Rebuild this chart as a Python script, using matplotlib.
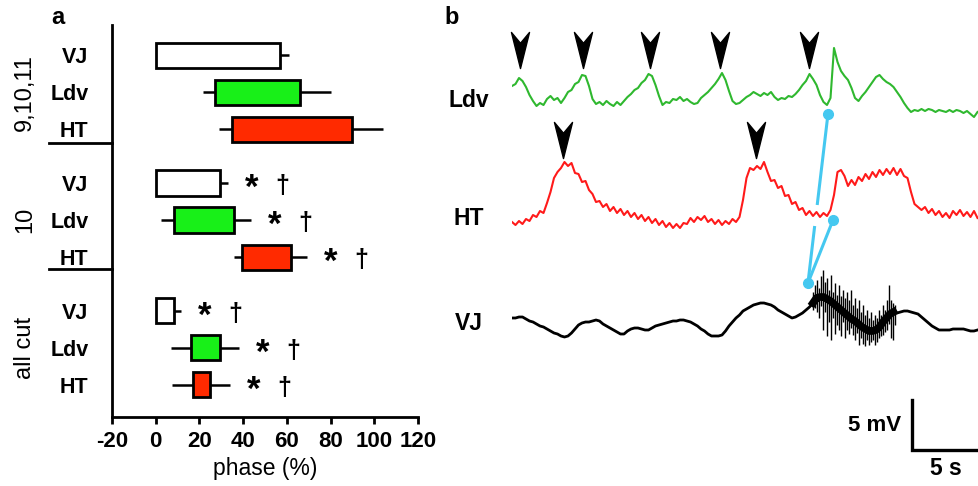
import numpy as np
import matplotlib.pyplot as plt
from matplotlib.path import Path
from matplotlib.transforms import blended_transform_factory

plt.rcParams['font.family'] = ['Liberation Sans', 'DejaVu Sans']

# ---- panel a: burst phase per nerve (box = quartiles, whiskers = range) ----
groups = ["9,10,11", "10", "all cut"]
nerves = ["VJ", "Ldv", "HT"]
box_lo = [0, 27, 34.7, 0, 8.3, 39.6, 0, 16, 17]
box_hi = [56.8, 66, 90, 29.3, 36, 62, 8.3, 29.3, 24.7]
whisk_lo = [0, 21.5, 29, 0, 2.5, 35.7, 0, 7, 7.3]
whisk_hi = [61, 80, 104, 33, 43.5, 69, 11.5, 38, 34]
significant = [False, False, False, True, True, True, True, True, True]

# ---- panel b: example recordings (mV relative to resting level, 0.25 s per sample) ----
dt = 0.25
ldv_mv = [1.9, 2.1, 2.7, 2.4, 1.8, 1.0, 0.4, -0.1, 0.2, 0.0,
          0.6, 0.9, 0.5, 0.7, 0.2, 0.7, 1.3, 1.5, 2.1, 2.3,
          3.0, 2.9, 1.9, 0.6, 0.1, 0.3, 0.0, 0.4, 0.1, -0.1,
          0.3, 0.0, 0.4, 0.8, 1.1, 1.5, 1.7, 2.2, 2.5, 3.1,
          2.9, 2.0, 0.9, 0.0, 0.3, 0.2, 0.6, 0.5, 0.8, 0.4,
          0.6, 0.3, 0.1, 0.2, 0.7, 1.0, 1.3, 1.7, 2.1, 2.6,
          3.2, 2.5, 1.4, 0.4, 0.1, 0.2, 0.5, 0.8, 1.0, 1.3,
          1.1, 0.9, 1.2, 1.0, 1.3, 0.8, 0.5, 0.7, 0.6, 0.9,
          0.8, 1.1, 1.5, 2.0, 2.4, 3.1, 2.6, 2.0, 1.0, 0.3,
          0.0, 0.7, 5.7, 4.3, 3.4, 2.9, 2.5, 1.7, 0.7, 0.4,
          0.9, 1.3, 1.8, 2.3, 2.8, 3.0, 2.6, 2.3, 2.1, 1.8,
          1.3, 0.8, 0.2, -0.3, -0.7, -0.5, -0.6, -0.4, -0.6, -0.4,
          -0.5, -0.7, -0.5, -0.6, -0.7, -0.5, -0.7, -0.5, -0.6, -0.8,
          -0.6, -0.9, -1.2, -0.7]
ht_mv = [0.1, -0.2, 0.2, -0.1, 0.4, 0.2, 0.8, 0.6, 1.2, 1.0,
         2.0, 3.1, 4.5, 5.1, 5.5, 6.1, 5.7, 6.0, 5.0, 4.9,
         4.1, 4.2, 3.3, 2.9, 2.1, 2.2, 1.6, 1.9, 1.2, 1.6,
         1.0, 1.4, 0.8, 1.2, 0.6, 1.0, 0.4, 0.8, 0.2, 0.6,
         0.0, 0.4, -0.2, 0.2, -0.4, 0.0, -0.5, -0.1, -0.5, 0.0,
         -0.1, 0.5, 0.1, 0.6, 0.3, 0.7, 0.1, 0.4, -0.1, 0.3,
         -0.2, 0.2, -0.1, 0.4, 0.1, 0.6, 2.3, 4.5, 5.5, 5.3,
         5.7, 5.4, 6.1, 5.1, 4.2, 4.3, 3.5, 3.7, 2.7, 2.8,
         1.9, 2.1, 1.3, 1.5, 0.8, 1.2, 0.7, 1.1, 0.6, 1.0,
         0.7, 1.3, 2.8, 5.1, 5.3, 4.7, 3.7, 4.3, 3.8, 4.6,
         4.2, 4.9, 4.4, 5.1, 4.6, 5.3, 4.8, 5.4, 4.9, 5.5,
         4.8, 5.4, 4.7, 4.5, 3.1, 1.9, 1.6, 1.3, 1.6, 1.0,
         1.4, 0.8, 1.2, 0.6, 1.0, 0.5, 1.2, 0.8, 1.3, 0.7,
         1.1, 0.6, 1.2, 0.5]
vj_mv = [0.7, 0.7, 0.8, 0.8, 0.6, 0.4, 0.3, 0.1, -0.1, -0.2,
         -0.4, -0.6, -0.8, -0.9, -1.1, -1.2, -1.1, -0.8, -0.4, 0.0,
         0.2, 0.3, 0.3, 0.4, 0.5, 0.4, 0.1, -0.1, -0.3, -0.5,
         -0.7, -0.9, -0.9, -0.6, -0.4, -0.3, -0.3, -0.4, -0.5, -0.5,
         -0.3, -0.1, 0.0, 0.1, 0.2, 0.3, 0.4, 0.4, 0.5, 0.5,
         0.4, 0.3, 0.1, -0.1, -0.4, -0.6, -0.9, -1.1, -1.1, -1.1,
         -1.0, -0.6, -0.1, 0.3, 0.7, 1.0, 1.4, 1.6, 1.8, 2.0,
         2.1, 2.2, 2.2, 2.1, 2.0, 1.8, 1.5, 1.3, 1.1, 0.9,
         0.7, 0.8, 1.0, 1.2, 1.5, 1.8, 2.2, 2.7, 2.8, 2.8,
         2.6, 2.4, 2.1, 1.8, 1.5, 1.2, 0.9, 0.6, 0.4, 0.1,
         -0.2, -0.4, -0.6, -0.6, -0.5, -0.2, 0.3, 0.7, 1.1, 1.3,
         1.2, 1.3, 1.4, 1.4, 1.3, 1.2, 1.1, 0.8, 0.5, 0.2,
         -0.1, -0.3, -0.5, -0.5, -0.5, -0.5, -0.4, -0.4, -0.4, -0.4,
         -0.5, -0.6, -0.6, -0.5]
# VJ spike burst after the cut (extent of each sweep, mV)
burst_start, burst_dt = 21.5, 0.143
burst_top = [3.3, 4.0, 4.5, 3.7, 4.9, 5.5, 4.3, 4.7, 3.5, 5.0,
             3.3, 4.2, 3.0, 4.0, 2.9, 3.5, 2.7, 3.3, 2.5, 3.5,
             2.0, 2.7, 1.7, 2.5, 1.3, 2.0, 1.0, 1.5, 0.7, 1.3,
             0.5, 1.0, 0.7, 1.5, 1.0, 2.0, 1.5, 2.5, 4.0, 2.5,
             2.2, 2.0]
burst_bottom = [1.5, 1.7, 1.3, 0.7, 1.9, -0.5, 1.3, -1.1, 0.3, -1.5,
                0.7, -0.9, 0.0, -0.5, -1.1, 0.3, -1.3, -0.5, -0.9, -0.3,
                -1.0, -1.5, -0.8, -2.0, -1.3, -1.9, -2.1, -1.5, -2.0, -1.7,
                -1.5, -2.0, -1.7, -1.3, -1.1, -1.0, -0.7, -0.5, 0.1, -1.3,
                -1.5, 0.0]
ldv_bursts = [0.57, 5.07, 9.86, 14.86, 21.21]   # s, arrowheads
ht_bursts = [3.64, 17.43]
# onset markers linking the three traces (s, mV on the stacked axis)
onset_t = [22.57, 22.93, 21.14]
onset_v = [35.6, 25.0, 18.7]

offsets = {"Ldv": 36.5, "HT": 24.7, "VJ": 14.5}
label_v = {"Ldv": 37.0, "HT": 25.2, "VJ": 14.7}

fig = plt.figure(figsize=(9.79, 4.86), dpi=100)

# ---------------- panel a ----------------
ax = fig.add_axes([112 / 979, 69 / 486, 306 / 979, 392 / 486])
ypos = [0, 1, 2, 3.45, 4.45, 5.45, 6.9, 7.9, 8.9]
fills = ["white", "#18f018", "#ff2a00"] * 3

ax.hlines(ypos, whisk_lo, whisk_hi, color="black", lw=1.8, zorder=2)
ax.barh(ypos, np.array(box_hi) - np.array(box_lo), left=box_lo, height=0.68,
        color=fills, edgecolor="black", linewidth=2.0, zorder=3)

for y, hi, sig in zip(ypos, whisk_hi, significant):
    if sig:
        ax.text(hi + 11, y + 0.15, "*", fontsize=25, fontweight="bold",
                ha="center", va="center")
        ax.text(hi + 25, y + 0.08, "\u2020", fontsize=18, fontweight="bold",
                ha="center", va="center")

ax.set_xlim(-20, 120)
ax.set_ylim(9.77, -0.82)
ax.set_xticks(range(-20, 121, 20))
ax.set_xticklabels([str(v) for v in range(-20, 121, 20)], fontweight="bold", fontsize=16)
ax.set_yticks(ypos)
ax.set_yticklabels(nerves * 3, fontweight="bold", fontsize=15.5)
ax.tick_params(axis="y", length=0, pad=17)
ax.tick_params(axis="x", length=5, width=2.0, pad=5)
ax.set_xlabel("phase (%)", fontsize=16.5, labelpad=4)
for side in ["top", "right"]:
    ax.spines[side].set_visible(False)
for side in ["left", "bottom"]:
    ax.spines[side].set_linewidth(2.0)

mixed = blended_transform_factory(ax.transAxes, ax.transData)
for ysep in [2.36, 5.77]:
    ax.plot([-0.206, 0], [ysep, ysep], color="black", lw=2.0,
            transform=mixed, clip_on=False)
for g, name in enumerate(groups):
    ax.text(-0.285, ypos[3 * g + 1], name, rotation=90, fontsize=17,
            ha="center", va="center", transform=mixed)

fig.text(58 / 979, 1 - 18 / 486, "a", fontsize=17, fontweight="bold",
         ha="center", va="center")
fig.text(452 / 979, 1 - 18 / 486, "b", fontsize=17, fontweight="bold",
         ha="center", va="center")

# ---------------- panel b ----------------
axb = fig.add_axes([512 / 979, 16 / 486, 467 / 979, 430 / 486])
axb.set_xlim(0, 467 / 14)
axb.set_ylim(0, 43)
axb.axis("off")

t = np.arange(len(ldv_mv)) * dt
axb.plot(t, offsets["Ldv"] + np.array(ldv_mv), color="#2fb82f", lw=1.5)
t = np.arange(len(ht_mv)) * dt
axb.plot(t, offsets["HT"] + np.array(ht_mv), color="#ff1a1a", lw=1.5)
t = np.arange(len(vj_mv)) * dt
vj = offsets["VJ"] + np.array(vj_mv)
axb.plot(t, vj, color="black", lw=2.0)
tb = burst_start + np.arange(len(burst_top)) * burst_dt
axb.vlines(tb, offsets["VJ"] + np.array(burst_bottom), offsets["VJ"] + np.array(burst_top),
           color="black", lw=1.0)
# dense core of the burst
core = (t >= burst_start) & (t <= tb[-1])
axb.plot(t[core], vj[core], color="black", lw=5.5)

arrow = Path([(0, -0.5), (-0.25, 0.5), (0, 0.2), (0.25, 0.5), (0, -0.5)],
             [Path.MOVETO, Path.LINETO, Path.LINETO, Path.LINETO, Path.CLOSEPOLY])
axb.plot(ldv_bursts, [42.0] * len(ldv_bursts), ls="none", marker=arrow,
         markersize=26, color="black", clip_on=False)
axb.plot(ht_bursts, [33.0] * len(ht_bursts), ls="none", marker=arrow,
         markersize=26, color="black", clip_on=False)

cyan = "#45c8f0"
# Ldv -> VJ link, broken where it crosses the HT trace
axb.plot([onset_t[0], 21.80], [onset_v[0], 26.5], color=cyan, lw=2.2, solid_capstyle="butt")
axb.plot([21.62, onset_t[2]], [24.4, onset_v[2]], color=cyan, lw=2.2, solid_capstyle="butt")
axb.plot([onset_t[1], onset_t[2]], [onset_v[1], onset_v[2]], color=cyan, lw=2.2)
axb.plot(onset_t, onset_v, ls="none", marker="o", markersize=7, color=cyan)

for name in ["Ldv", "HT", "VJ"]:
    axb.text(-3.07, label_v[name], name, fontsize=16.5, fontweight="bold",
             ha="center", va="center", clip_on=False)

# scale bar: 5 mV / 5 s
axb.plot([28.6, 28.6, 33.6], [7.0, 2.0, 2.0], color="black", lw=2.4,
         solid_joinstyle="miter", clip_on=False)
axb.text(27.8, 4.5, "5 mV", fontsize=16, fontweight="bold", ha="right", va="center")
axb.text(31.0, 0.2, "5 s", fontsize=16.5, fontweight="bold", ha="center", va="center")

fig.savefig("out.png", dpi=100)
